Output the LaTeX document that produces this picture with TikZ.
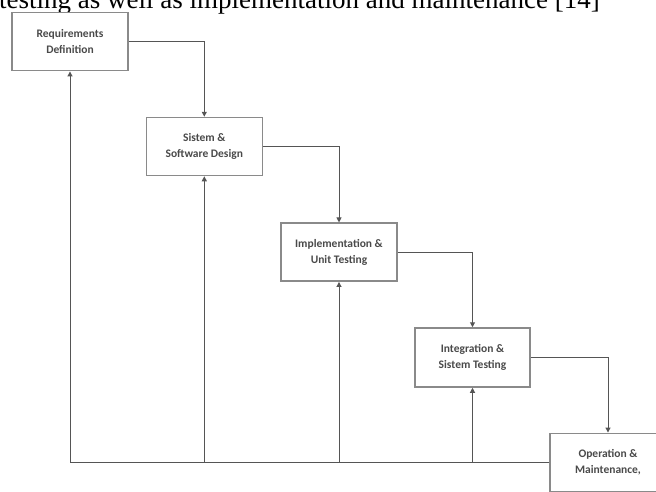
\documentclass[tikz,border=0pt]{standalone}
\usepackage{fontspec}
\setmainfont{Liberation Serif}
\newfontfamily\boxfont{Carlito}
\usetikzlibrary{arrows.meta}
\definecolor{boxline}{HTML}{8A8A8A}
\definecolor{connline}{HTML}{555555}
\definecolor{boxtext}{HTML}{4A4A4A}
\tikzset{
  stagebox/.style={draw=boxline, line width=1.5pt, fill=white, minimum width=116pt, minimum height=58pt,
    align=center, inner sep=0pt, text=boxtext, font=\boxfont\bfseries\fontsize{11.5}{16}\selectfont},
  conn/.style={draw=connline, line width=1pt, -{Triangle[width=5pt,length=5pt]}},
  plain/.style={draw=connline, line width=1pt}
}
\begin{document}
\begin{tikzpicture}[x=1pt,y=-1pt]
\useasboundingbox (0,0) rectangle (656,491);
\begin{scope}
\clip (0,0) rectangle (656,491);
\node[anchor=base west, inner sep=0pt, font=\fontsize{27}{27}\selectfont] (head) at (-1,8) {testing as well as implementation and maintenance [14]};
\node[stagebox] (b1) at (70,41.7) {Requirements\\Definition};
\node[stagebox] (b2) at (204.3,146.5) {Sistem \&\\Software Design};
\node[stagebox] (b3) at (339,252.2) {Implementation \&\\Unit Testing};
\node[stagebox, minimum width=115pt, minimum height=59pt] (b4) at (472.5,357.5) {Integration \&\\Sistem Testing};
\node[stagebox] (b5) at (608,462.3) {Operation \&\\Maintenance,};
\draw[conn] (b1.east) -| (b2.north);
\draw[conn] (b2.east) -| (b3.north);
\draw[conn] (b3.east) -| (b4.north);
\draw[conn] (b4.east) -| (b5.north);
\draw[plain] (b5.west) -- (b5.west -| b1.south);
\draw[conn] (b5.west -| b1.south) -- (b1.south);
\draw[conn] (b5.west -| b2.south) -- (b2.south);
\draw[conn] (b5.west -| b3.south) -- (b3.south);
\draw[conn] (b5.west -| b4.south) -- (b4.south);
\end{scope}
\end{tikzpicture}
\end{document}
